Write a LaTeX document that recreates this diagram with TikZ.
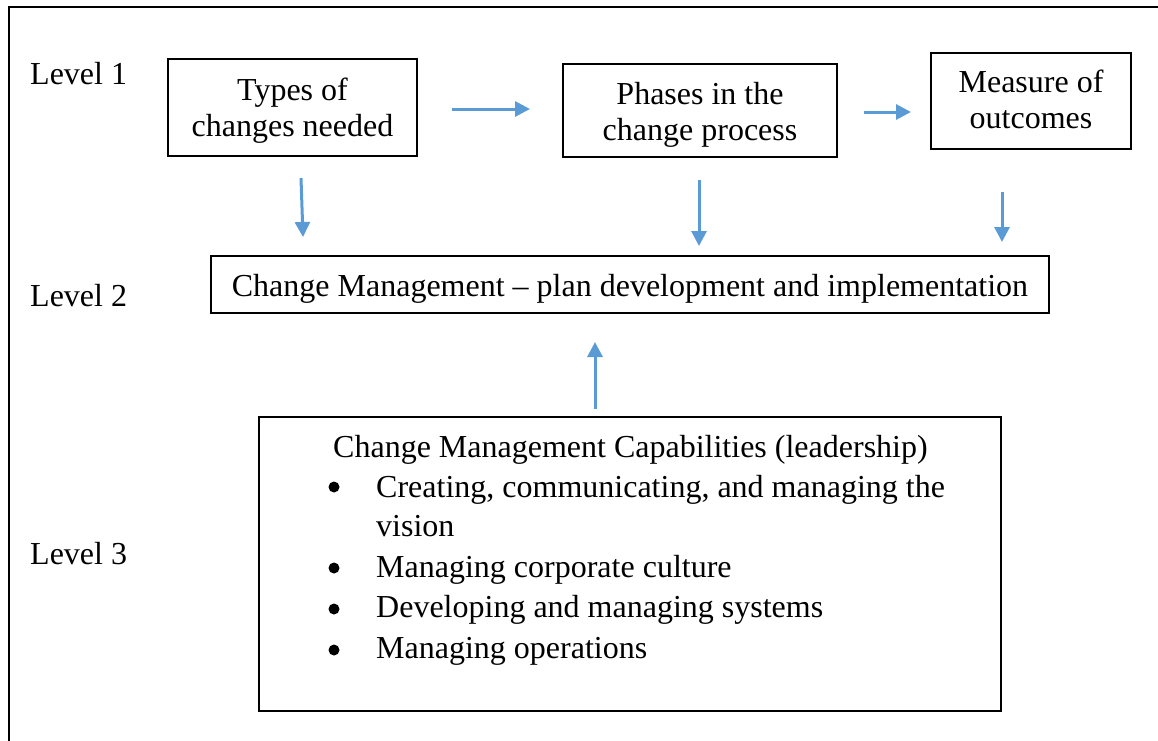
\documentclass[tikz,border=0pt]{standalone}
\usepackage{fontspec}
\setmainfont{Liberation Serif}
\usetikzlibrary{arrows.meta}
\definecolor{arrowblue}{RGB}{91,155,213}
\begin{document}
\begin{tikzpicture}[x=1pt,y=-1pt,
  box/.style={draw=black,line width=2pt,inner sep=0pt},
  txt/.style={inner sep=0pt,anchor=base west,font=\fontsize{32}{37}\selectfont},
  ctxt/.style={inner sep=0pt,anchor=base,font=\fontsize{32}{37}\selectfont},
  arr/.style={draw=arrowblue,line width=3pt,-{Triangle[length=15pt,width=15pt]}},
  bul/.style={circle,fill=black,inner sep=0pt,minimum size=11pt}]
\useasboundingbox (0,0) rectangle (1158,740);
\draw[line width=2pt] (9,745) |- (1165,7);
% level labels
\node[txt] (l1) at (30,84) {Level 1};
\node[txt] (l2) at (30,306) {Level 2};
\node[txt] (l3) at (30,564) {Level 3};
% level 1 boxes
\node[box,minimum width=249pt,minimum height=97pt] (types) at (292.5,107.5) {};
\node[ctxt] (types1) at (292.5,100) {Types of};
\node[ctxt] (types2) at (292.5,136.5) {changes needed};
\node[box,minimum width=274pt,minimum height=93pt] (phases) at (700,110.5) {};
\node[ctxt] (phases1) at (700,104) {Phases in the};
\node[ctxt] (phases2) at (700,140.5) {change process};
\node[box,minimum width=200pt,minimum height=96pt] (measure) at (1031,101) {};
\node[ctxt] (measure1) at (1031,92) {Measure of};
\node[ctxt] (measure2) at (1031,128.5) {outcomes};
% level 2
\node[box,minimum width=838pt,minimum height=57pt] (cm) at (630,284.5) {};
\node[ctxt] (cmt) at (630,296) {Change Management -- plan development and implementation};
% level 3
\node[box,minimum width=742pt,minimum height=294pt] (cap) at (630,564) {};
\node[txt] (capt) at (333,457) {Change Management Capabilities (leadership)};
\node[bul] (b1) at (334,487) {};
\node[bul] (b2) at (334,568) {};
\node[bul] (b3) at (334,609) {};
\node[bul] (b4) at (334,650) {};
\node[txt] (t1) at (376,497) {Creating, communicating, and managing the};
\node[txt] (t1b) at (376,536) {vision};
\node[txt] (t2) at (376,577) {Managing corporate culture};
\node[txt] (t3) at (376,617.5) {Developing and managing systems};
\node[txt] (t4) at (376,658) {Managing operations};
% arrow end points
\coordinate (a1s) at (452,109);
\coordinate (a1e) at (530,109);
\coordinate (a2s) at (864,112);
\coordinate (a2e) at (911,112);
\coordinate (d1s) at (301,178);
\coordinate (d1e) at (303,237);
\coordinate (d2s) at (699,180);
\coordinate (d2e) at (699,246);
\coordinate (d3s) at (1002,192);
\coordinate (d3e) at (1002,242);
\coordinate (us) at (595,409);
\coordinate (ue) at (595,342);
\draw[arr] (a1s) -- (a1e);
\draw[arr] (a2s) -- (a2e);
\draw[arr] (d1s) -- (d1e);
\draw[arr] (d2s) -- (d2e);
\draw[arr] (d3s) -- (d3e);
\draw[arr] (us) -- (ue);
\end{tikzpicture}
\end{document}
